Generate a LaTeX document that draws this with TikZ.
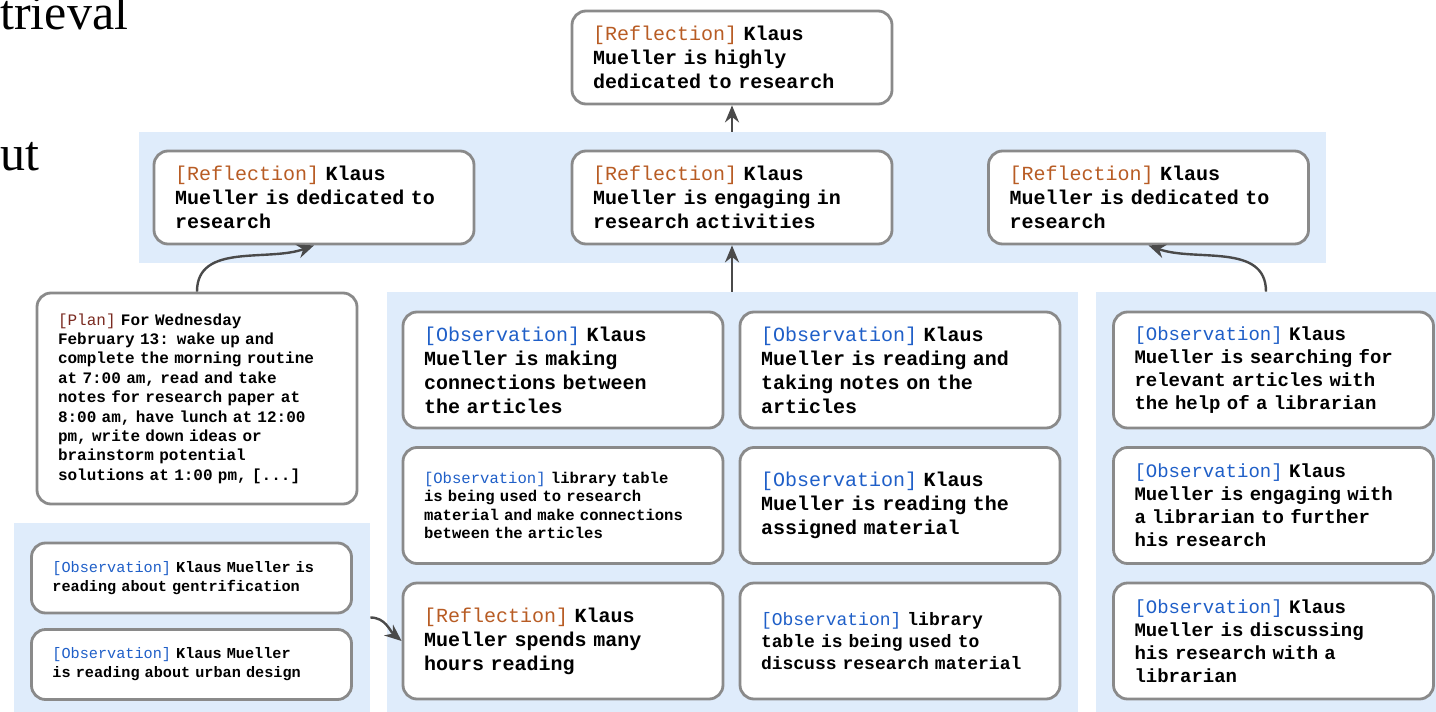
\documentclass[tikz,border=0pt]{standalone}
\usepackage{fontspec}
\setmainfont{Liberation Serif}
\setmonofont{Liberation Mono}
\usetikzlibrary{arrows.meta,positioning}
\definecolor{panelblue}{HTML}{DFECFB}
\definecolor{cardgray}{HTML}{8A8A8A}
\definecolor{arrowgray}{HTML}{4A4A4A}
\definecolor{reflcol}{HTML}{B85C24}
\definecolor{plancol}{HTML}{7A2A20}
\definecolor{obscol}{HTML}{1F5FC8}
\newcommand{\refl}{\textcolor{reflcol}{\mdseries[Reflection]}}
\newcommand{\obs}{\textcolor{obscol}{\mdseries[Observation]}}
\newcommand{\plan}{\textcolor{plancol}{\mdseries[Plan]}}

\tikzset{
  panel/.style={fill=panelblue, draw=none, inner sep=0pt},
  card/.style={draw=cardgray, line width=1.4pt, rounded corners=7pt, fill=white,
    text width=139pt, inner xsep=10.5pt, align=left},
  fs/.style 2 args={font=\ttfamily\bfseries\fontsize{#1}{#2}\selectfont},
  flow/.style={-{Stealth[length=8.5pt, width=7pt]}, line width=1.2pt, arrowgray},
}

\begin{document}
\begin{tikzpicture}[x=0.5pt, y=-0.5pt]
  \useasboundingbox (0,0) rectangle (1436,712);
  % cut-off caption words
  \node[anchor=base west, inner sep=0pt, font=\fontsize{25}{28}\selectfont] (capA) at (0,29) {trieval};
  \node[anchor=base west, inner sep=0pt, font=\fontsize{25}{28}\selectfont] (capB) at (0,170) {ut};

  % Background panels
  \node[panel, minimum width=593.5pt, minimum height=65.5pt] (rowPanel) at (732.5,197.5) {};
  \node[panel, minimum width=345.5pt, minimum height=210pt] (midPanel) at (732.5,502) {};
  \node[panel, minimum width=170pt, minimum height=210pt] (rightPanel) at (1266,502) {};
  \node[panel, minimum width=178pt, minimum height=94.5pt] (leftPanel) at (192,617.5) {};

  % Reflections
  \node[card, fs={10}{12}, minimum height=46.5pt] (refTop) at (732,57.5)
    {\refl{} Klaus\\Mueller is highly\\dedicated to research};
  \node[card, fs={10}{12}, minimum height=46.5pt] (refA) at (314,197.5)
    {\refl{} Klaus\\Mueller is dedicated to\\research};
  \node[card, fs={10}{12}, minimum height=46.5pt] (refB) at (732,197.5)
    {\refl{} Klaus\\Mueller is engaging in\\research activities};
  \node[card, fs={10}{12}, minimum height=46.5pt] (refC) at (1148.5,197.5)
    {\refl{} Klaus\\Mueller is dedicated to\\research};

  % Plan
  \node[card, fs={8}{9.7}, minimum height=105.5pt] (plan) at (197,398.5)
    {\plan{} For Wednesday\\February 13: wake up and\\complete the morning routine\\at 7:00 am, read and take\\notes for research paper at\\8:00 am, have lunch at 12:00\\pm, write down ideas or\\brainstorm potential\\solutions at 1:00 pm, [...]};

  % Middle group
  \node[card, fs={10}{12}, minimum height=58pt] (obsA) at (563,370)
    {\obs{} Klaus\\Mueller is making\\connections between\\the articles};
  \node[card, fs={10}{12}, minimum height=58pt] (obsB) at (900,370)
    {\obs{} Klaus\\Mueller is reading and\\taking notes on the\\articles};
  \node[card, fs={7.8}{9.3}, minimum height=58pt] (obsC) at (563,505.5)
    {\obs{} library table\\is being used to research\\material and make connections\\between the articles};
  \node[card, fs={10}{12}, minimum height=58pt] (obsD) at (900,505.5)
    {\obs{} Klaus\\Mueller is reading the\\assigned material};
  \node[card, fs={10}{12}, minimum height=58pt] (refRead) at (563,641)
    {\refl{} Klaus\\Mueller spends many\\hours reading};
  \node[card, fs={9}{11}, minimum height=58pt] (obsE) at (900,641)
    {\obs{} library\\table is being used to\\discuss research material};

  % Right group
  \node[card, fs={9.5}{11.5}, minimum height=58pt] (obsF) at (1273.5,370)
    {\obs{} Klaus\\Mueller is searching for\\relevant articles with\\the help of a librarian};
  \node[card, fs={9.5}{11.5}, minimum height=58pt] (obsG) at (1273.5,505.5)
    {\obs{} Klaus\\Mueller is engaging with\\a librarian to further\\his research};
  \node[card, fs={9.5}{11.5}, minimum height=58pt] (obsH) at (1273.5,641)
    {\obs{} Klaus\\Mueller is discussing\\his research with a\\librarian};

  % Left group
  \node[card, fs={7.6}{9.5}, minimum height=35pt] (obsI) at (191.5,578)
    {\obs{} Klaus Mueller is\\reading about gentrification};
  \node[card, fs={7.6}{9.5}, minimum height=35pt] (obsJ) at (191.5,664.5)
    {\obs{} Klaus Mueller\\is reading about urban design};

  % Arrows
  \draw[flow] (refTop.south |- rowPanel.north) -- (refTop.south);
  \draw[flow] (refB.south |- midPanel.north) -- (refB.south);
  \draw[flow] (plan.north) to[out=90, in=-160] (refA.south);
  \draw[flow] (rightPanel.north) to[out=90, in=-20] (refC.south);
  \draw[flow] (leftPanel.east) to[out=0, in=140] (refRead.west);
\end{tikzpicture}
\end{document}
